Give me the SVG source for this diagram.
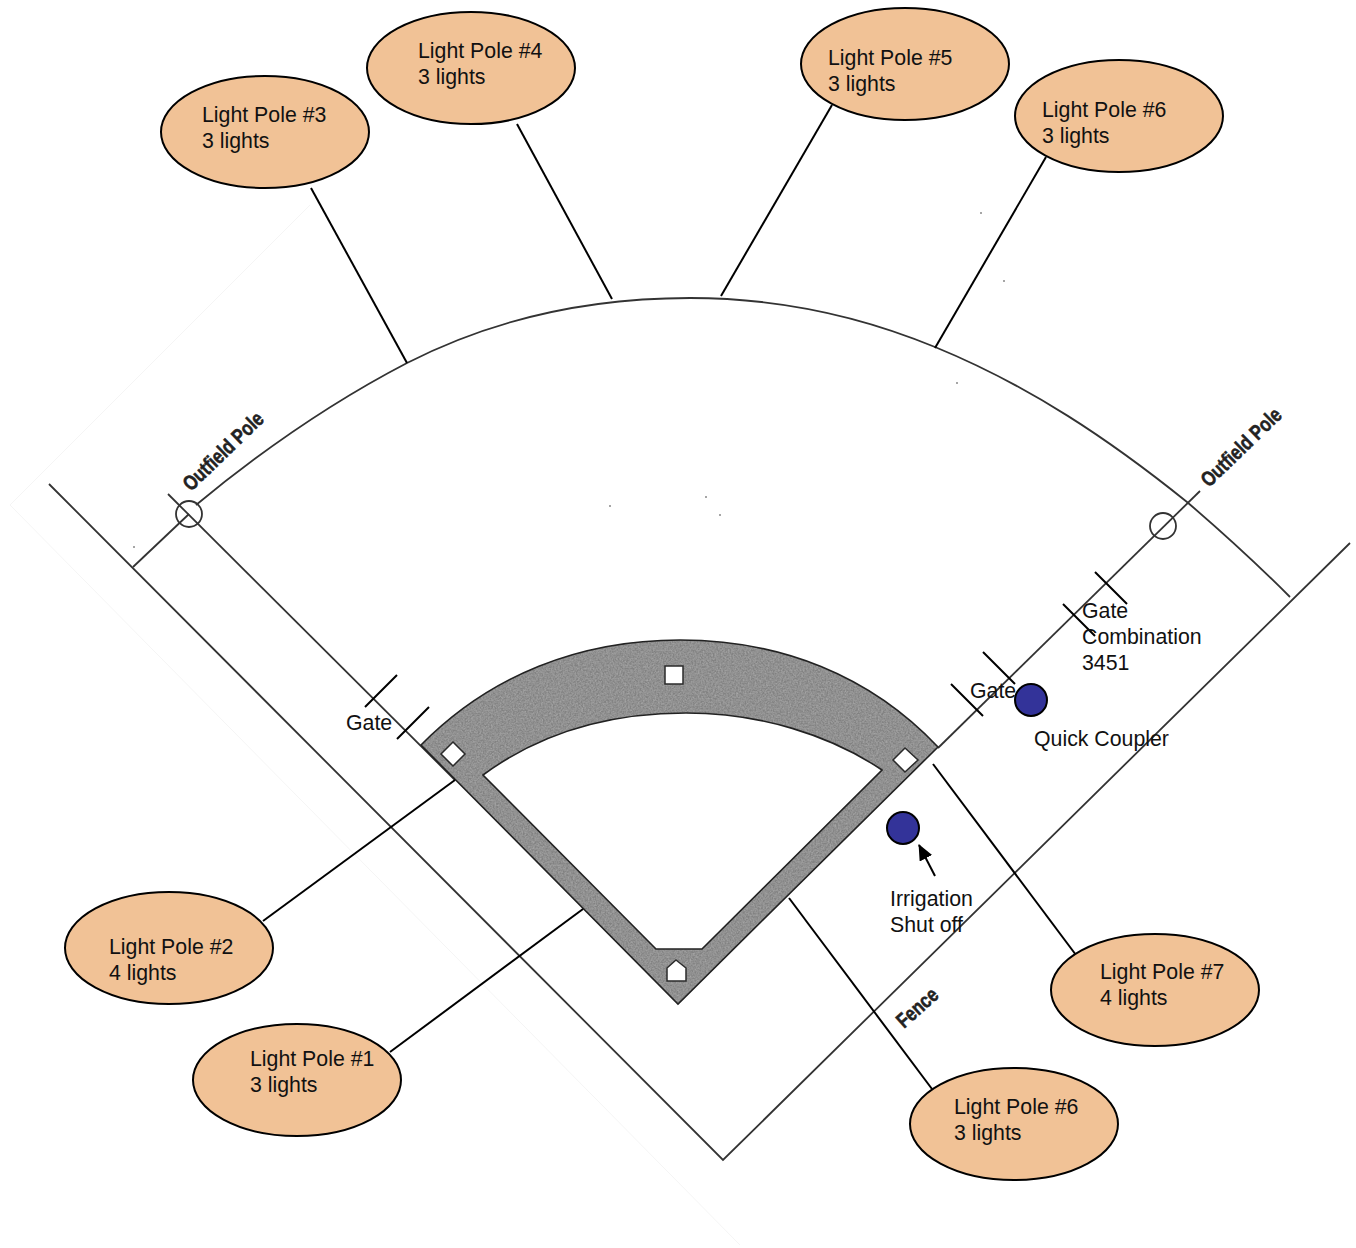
<svg xmlns="http://www.w3.org/2000/svg" width="1356" height="1248" viewBox="0 0 1356 1248">
<style>
text{font-family:"Liberation Sans",Arial,sans-serif;font-size:21.3px;fill:#111}
.pole{fill:#f1c296;stroke:#000;stroke-width:2}
.lead{fill:none;stroke:#000;stroke-width:2}
.scan{fill:none;stroke:#333;stroke-width:1.8}
.ghost{fill:none;stroke:#f5f5f5;stroke-width:1}
.base{fill:#fff;stroke:#2a2a2a;stroke-width:1.5}
.blue{fill:#333399;stroke:#000;stroke-width:2}
text.bold{font-weight:bold;font-size:19px;fill:#222;stroke:#222;stroke-width:.5}
.speck{fill:#888}
</style>
<defs>
<filter id="grain" x="0" y="0" width="100%" height="100%">
<feTurbulence type="fractalNoise" baseFrequency="0.6" numOctaves="2" seed="4" result="n"/>
<feColorMatrix in="n" type="matrix" values="0 0 0 0 0.42  0 0 0 0 0.42  0 0 0 0 0.42  0.9 0.9 0 0 -0.6" result="g"/>
<feComposite in="g" in2="SourceGraphic" operator="in" result="c"/>
<feMerge><feMergeNode in="SourceGraphic"/><feMergeNode in="c"/></feMerge>
</filter>
<marker id="arr" markerUnits="userSpaceOnUse" markerWidth="18" markerHeight="18" refX="15" refY="7" orient="auto"><path d="M0 0L16 7L0 14Z" fill="#000"/></marker>
</defs>

<g id="field">
<path class="ghost" d="M310 205L10 505L740 1245"/>
<path class="scan" d="M49 484L723 1160L1350 543"/>
<path class="scan" d="M133 567L189 514"/>
<path class="scan" d="M168 494L455 780"/>
<path class="scan" d="M938 748L1200 491"/>
<path class="scan" d="M196 505C260 452 330 403 407 363C495 318 590 298 690 298C780 298 860 316 935 347C1030 386 1110 440 1187 502C1222 532 1258 565 1290 597"/>
<circle class="scan" cx="189" cy="514" r="13"/>
<circle class="scan" cx="1163" cy="526" r="13"/>
<path d="M421 745C490 675 580 640 680 640C780 640 870 675 938 747L678 1004Z" fill="#828282" filter="url(#grain)"/>
<path d="M421 745C490 675 580 640 680 640C780 640 870 675 938 747L678 1004Z" fill="none" stroke="#222" stroke-width="1.6"/>
<path d="M483 775C540 733 610 713 686 713C760 713 830 735 882 770L702 949H656Z" fill="#fff" stroke="#222" stroke-width="1.6"/>
<rect class="base" x="665" y="666" width="18" height="18"/>
<path class="base" d="M453 742L465 754L453 766L441 754Z"/>
<path class="base" d="M905 748L918 760L905 772L893 760Z"/>
<path class="base" d="M676 960L686 968V981H667V968Z"/>
<text class="bold" transform="translate(191 492) rotate(-44) scale(.88 1.1)">Outfield Pole</text>
<text class="bold" transform="translate(1209 488) rotate(-44) scale(.88 1.1)">Outfield Pole</text>
<text class="bold" transform="translate(904 1029) rotate(-42) scale(.88 1.1)">Fence</text>
<circle class="speck" cx="134" cy="547" r="1"/>
<circle class="speck" cx="981" cy="213" r="1"/>
<circle class="speck" cx="1004" cy="281" r="1"/>
<circle class="speck" cx="957" cy="383" r="1"/>
<circle class="speck" cx="706" cy="497" r="1"/>
<circle class="speck" cx="720" cy="515" r="1"/>
<circle class="speck" cx="610" cy="506" r="1"/>
</g>

<g id="connectors">
<path class="lead" d="M311 188L407 363"/>
<path class="lead" d="M517 124L612 299"/>
<path class="lead" d="M832 105L721 296"/>
<path class="lead" d="M1046 157L935 348"/>
<path class="lead" d="M263 921L455 780"/>
<path class="lead" d="M390 1052L583 909"/>
<path class="lead" d="M932 1089L789 898"/>
<path class="lead" d="M1076 955L933 764"/>
<path class="lead" d="M935 876L919 845" marker-end="url(#arr)"/>
<path class="lead" d="M365 707L397 675M397 739L429 707M951 684L983 716M983 652L1015 684M1063 604L1095 636M1095 572L1127 604"/>
</g>

<g id="pole3"><ellipse class="pole" cx="265" cy="132" rx="104" ry="56"/><text x="202" y="122">Light Pole #3</text><text x="202" y="148">3 lights</text></g>
<g id="pole4"><ellipse class="pole" cx="471" cy="68" rx="104" ry="56"/><text x="418" y="58">Light Pole #4</text><text x="418" y="84">3 lights</text></g>
<g id="pole5"><ellipse class="pole" cx="905" cy="64" rx="104" ry="56"/><text x="828" y="65">Light Pole #5</text><text x="828" y="91">3 lights</text></g>
<g id="pole6"><ellipse class="pole" cx="1119" cy="116" rx="104" ry="56"/><text x="1042" y="117">Light Pole #6</text><text x="1042" y="143">3 lights</text></g>
<g id="pole2"><ellipse class="pole" cx="169" cy="948" rx="104" ry="56"/><text x="109" y="954">Light Pole #2</text><text x="109" y="980">4 lights</text></g>
<g id="pole1"><ellipse class="pole" cx="297" cy="1080" rx="104" ry="56"/><text x="250" y="1066">Light Pole #1</text><text x="250" y="1092">3 lights</text></g>
<g id="pole6b"><ellipse class="pole" cx="1014" cy="1124" rx="104" ry="56"/><text x="954" y="1114">Light Pole #6</text><text x="954" y="1140">3 lights</text></g>
<g id="pole7"><ellipse class="pole" cx="1155" cy="990" rx="104" ry="56"/><text x="1100" y="979">Light Pole #7</text><text x="1100" y="1005">4 lights</text></g>

<g id="irrigation"><circle class="blue" cx="903" cy="828" r="16"/><text x="890" y="906">Irrigation</text><text x="890" y="932">Shut off</text></g>
<g id="coupler"><circle class="blue" cx="1031" cy="700" r="16"/><text x="1034" y="746">Quick Coupler</text></g>
<g id="gate-left"><text x="346" y="730">Gate</text></g>
<g id="gate-right"><text x="970" y="698">Gate</text></g>
<g id="gate-combination"><text x="1082" y="618">Gate</text><text x="1082" y="644">Combination</text><text x="1082" y="670">3451</text></g>
</svg>
